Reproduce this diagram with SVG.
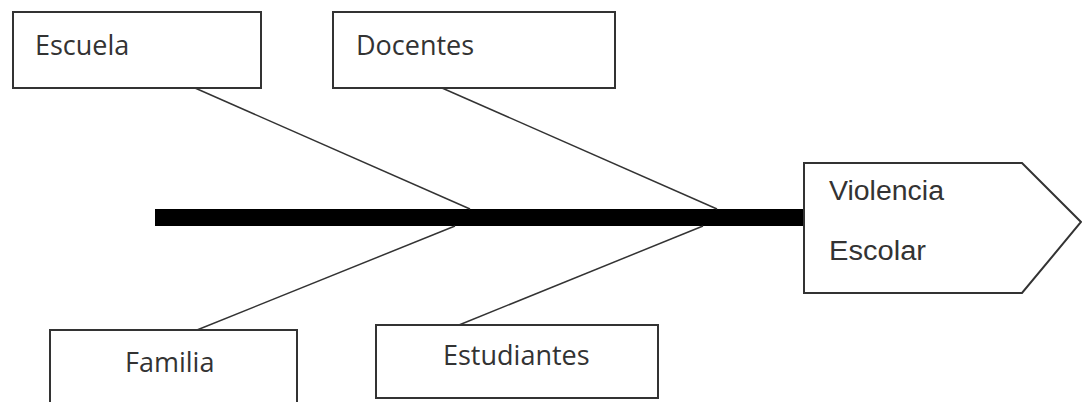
<svg xmlns="http://www.w3.org/2000/svg" width="1082" height="402" viewBox="0 0 1082 402">
<style>
.box{fill:#fff;stroke:#333;stroke-width:2}
.lbl{font-family:"Open Sans","Noto Sans",sans-serif;font-size:27px;fill:#333}
.lbl2{font-family:"Liberation Sans",Arial,sans-serif;font-size:27px;fill:#333}
.bone{stroke:#333;stroke-width:1.5;fill:none}
</style>
<rect width="1082" height="402" fill="#fff"/>
<g id="connectors">
<rect x="155" y="209" width="650" height="17" fill="#000"/>
<line class="bone" x1="195" y1="88" x2="470" y2="209"/>
<line class="bone" x1="442" y1="88" x2="717" y2="209"/>
<line class="bone" x1="455" y1="226" x2="197" y2="330"/>
<line class="bone" x1="703" y1="226" x2="459" y2="325"/>
</g>
<g id="escuela">
<rect class="box" x="13" y="12" width="248" height="76"/>
<text class="lbl" x="35" y="55">Escuela</text>
</g>
<g id="docentes">
<rect class="box" x="333" y="12" width="282" height="76"/>
<text class="lbl" x="356" y="55">Docentes</text>
</g>
<g id="familia">
<rect class="box" x="50" y="330" width="247" height="80"/>
<text class="lbl" x="125" y="372">Familia</text>
</g>
<g id="estudiantes">
<rect class="box" x="376" y="325" width="282" height="73"/>
<text class="lbl" x="443" y="365">Estudiantes</text>
</g>
<g id="violencia-escolar">
<polygon class="box" stroke-width="1.5" points="804,163 1022,163 1081,222 1022,293 804,293"/>
<text class="lbl2" x="829" y="200" textLength="115" lengthAdjust="spacingAndGlyphs">Violencia</text>
<text class="lbl2" x="829" y="260" textLength="97" lengthAdjust="spacingAndGlyphs">Escolar</text>
</g>
</svg>
